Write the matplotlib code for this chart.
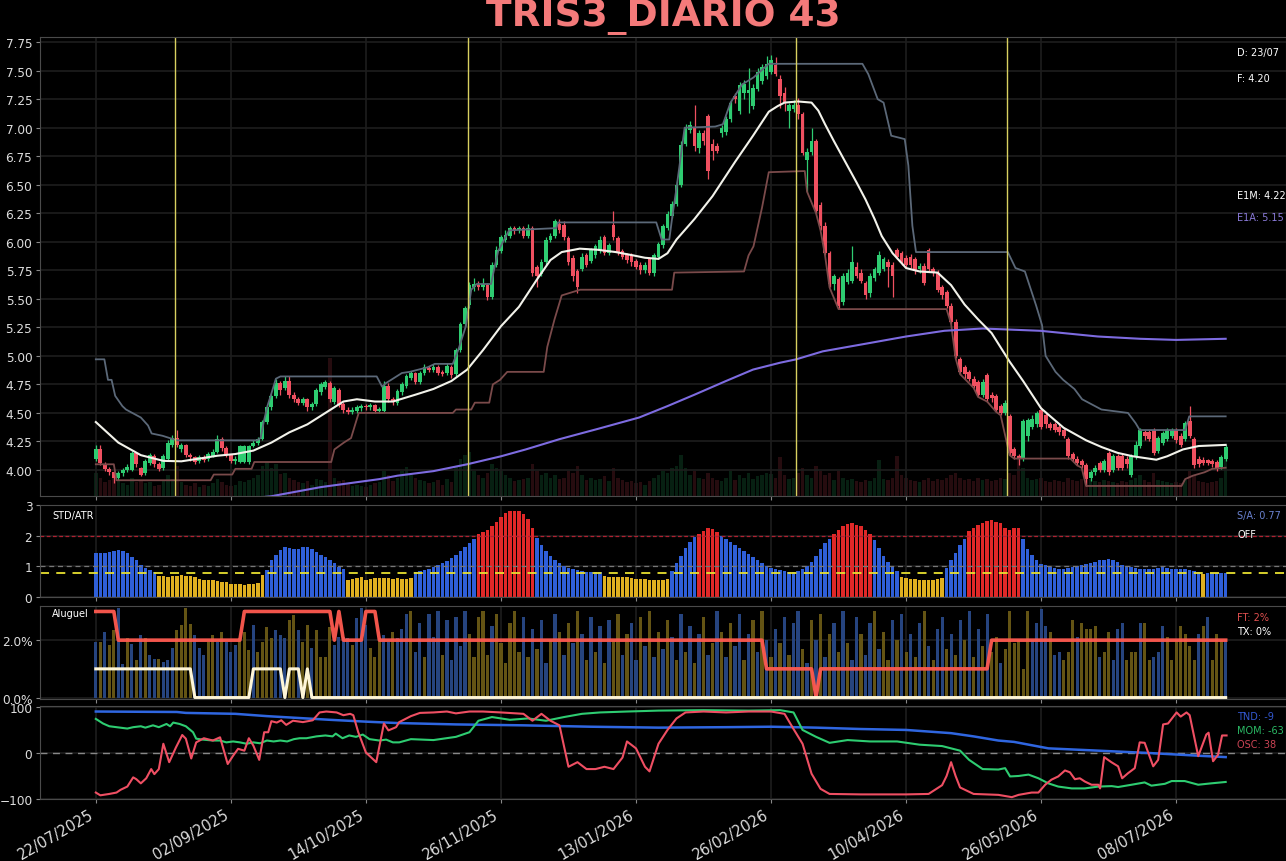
import matplotlib
matplotlib.use("Agg")
import matplotlib.pyplot as plt
import numpy as np

## DADOS ##
# marcas do eixo x (indice do pregao -> data)
tick_idx = [0, 30, 60, 90, 120, 150, 180, 210, 240]
tick_lbl = ["22/07/2025", "02/09/2025", "14/10/2025", "26/11/2025", "13/01/2026",
            "26/02/2026", "10/04/2026", "26/05/2026", "08/07/2026"]

# candles diarios
abertura = [
    4.10, 4.18, 4.05, 4.01, 3.98, 3.93, 3.97, 4.00, 4.00, 4.15,
    4.02, 3.97, 4.06, 4.12, 4.05, 4.02, 4.10, 4.22, 4.28, 4.18,
    4.22, 4.13, 4.11, 4.08, 4.11, 4.10, 4.12, 4.16, 4.27, 4.19,
    4.13, 4.08, 4.07, 4.07, 4.07, 4.21, 4.24, 4.27, 4.42, 4.55,
    4.65, 4.76, 4.72, 4.78, 4.66, 4.62, 4.59, 4.62, 4.55, 4.58,
    4.68, 4.73, 4.76, 4.60, 4.70, 4.58, 4.53, 4.51, 4.52, 4.54,
    4.56, 4.55, 4.57, 4.52, 4.52, 4.74, 4.62, 4.59, 4.68, 4.74,
    4.81, 4.85, 4.77, 4.85, 4.89, 4.88, 4.90, 4.86, 4.85, 4.90,
    4.84, 5.05, 5.28, 5.45, 5.60, 5.62, 5.60, 5.62, 5.52, 5.80,
    5.92, 6.02, 6.05, 6.12, 6.10, 6.12, 6.05, 6.12, 5.78, 5.72,
    5.82, 6.02, 6.05, 6.16, 6.15, 6.03, 5.86, 5.74, 5.76, 5.88,
    5.83, 5.88, 5.92, 6.04, 5.90, 6.15, 6.03, 5.92, 5.88, 5.88,
    5.83, 5.80, 5.75, 5.85, 5.73, 5.87, 5.97, 6.12, 6.23, 6.33,
    6.50, 6.86, 6.98, 7.00, 6.82, 6.95, 7.10, 6.86, 6.84, 6.95,
    6.96, 7.08, 7.28, 7.15, 7.30, 7.30, 7.19, 7.34, 7.41, 7.45,
    7.49, 7.55, 7.43, 7.30, 7.15, 7.16, 7.20, 7.12, 6.72, 6.79,
    6.88, 6.32, 6.14, 5.90, 5.63, 5.67, 5.47, 5.65, 5.66, 5.78,
    5.73, 5.64, 5.55, 5.68, 5.73, 5.76, 5.82, 5.80, 5.93, 5.90,
    5.86, 5.87, 5.85, 5.76, 5.79, 5.93, 5.76, 5.73, 5.60, 5.56,
    5.44, 5.30, 4.97, 4.90, 4.86, 4.80, 4.77, 4.66, 4.83, 4.66,
    4.65, 4.56, 4.50, 4.47, 4.18, 4.12, 4.10, 4.30, 4.38, 4.40,
    4.53, 4.48, 4.40, 4.40, 4.38, 4.35, 4.27, 4.14, 4.10, 4.08,
    4.04, 3.93, 3.98, 4.06, 4.00, 4.15, 4.00, 4.12, 4.12, 4.10,
    3.96, 4.12, 4.21, 4.33, 4.33, 4.35, 4.17, 4.24, 4.27, 4.30,
    4.35, 4.30, 4.27, 4.43, 4.27, 4.10, 4.09, 4.09, 4.08, 4.07,
    4.03, 4.10]
maxima = [
    4.22, 4.22, 4.07, 4.03, 3.99, 3.99, 4.02, 4.05, 4.17, 4.16,
    4.03, 4.10, 4.15, 4.14, 4.07, 4.14, 4.26, 4.31, 4.35, 4.24,
    4.23, 4.15, 4.12, 4.13, 4.13, 4.16, 4.18, 4.31, 4.29, 4.21,
    4.14, 4.12, 4.22, 4.22, 4.22, 4.26, 4.29, 4.44, 4.57, 4.67,
    4.80, 4.78, 4.82, 4.82, 4.68, 4.64, 4.64, 4.63, 4.60, 4.72,
    4.77, 4.79, 4.78, 4.74, 4.72, 4.60, 4.55, 4.55, 4.57, 4.58,
    4.58, 4.59, 4.58, 4.55, 4.78, 4.76, 4.64, 4.71, 4.77, 4.84,
    4.87, 4.86, 4.87, 4.93, 4.91, 4.93, 4.92, 4.88, 4.94, 4.92,
    5.07, 5.30, 5.44, 5.65, 5.68, 5.66, 5.68, 5.64, 5.82, 5.96,
    6.06, 6.10, 6.14, 6.14, 6.14, 6.14, 6.16, 6.14, 5.80, 5.85,
    6.04, 6.08, 6.20, 6.20, 6.18, 6.05, 5.88, 5.76, 5.90, 5.90,
    5.95, 5.98, 6.05, 6.06, 5.99, 6.27, 6.05, 5.94, 5.90, 5.90,
    5.85, 5.82, 5.82, 5.87, 5.90, 6.00, 6.16, 6.27, 6.36, 6.53,
    6.88, 7.03, 7.06, 7.20, 6.98, 6.98, 7.12, 6.90, 6.87, 7.02,
    7.10, 7.24, 7.30, 7.40, 7.42, 7.52, 7.38, 7.52, 7.56, 7.63,
    7.64, 7.62, 7.46, 7.36, 7.22, 7.24, 7.26, 7.14, 6.82, 7.00,
    6.90, 6.35, 6.17, 5.92, 5.72, 5.69, 5.73, 5.76, 5.96, 5.82,
    5.76, 5.66, 5.73, 5.78, 5.92, 5.87, 5.85, 5.82, 5.95, 5.92,
    5.88, 5.89, 5.87, 5.81, 5.81, 5.95, 5.78, 5.75, 5.62, 5.58,
    5.46, 5.32, 4.99, 4.92, 4.88, 4.82, 4.79, 4.80, 4.85, 4.68,
    4.67, 4.58, 4.61, 4.49, 4.20, 4.14, 4.45, 4.46, 4.48, 4.52,
    4.55, 4.50, 4.42, 4.42, 4.40, 4.37, 4.29, 4.16, 4.12, 4.10,
    4.06, 4.00, 4.04, 4.08, 4.10, 4.17, 4.14, 4.14, 4.14, 4.12,
    4.14, 4.25, 4.37, 4.35, 4.35, 4.37, 4.30, 4.34, 4.37, 4.37,
    4.37, 4.32, 4.43, 4.56, 4.29, 4.12, 4.11, 4.10, 4.10, 4.09,
    4.13, 4.22]
minima = [
    4.08, 4.04, 3.99, 3.96, 3.89, 3.91, 3.95, 3.98, 3.99, 4.03,
    3.95, 3.96, 4.04, 4.03, 3.99, 4.00, 4.08, 4.20, 4.20, 4.16,
    4.11, 4.08, 4.05, 4.06, 4.07, 4.08, 4.11, 4.15, 4.17, 4.11,
    4.06, 4.05, 4.06, 4.06, 4.05, 4.20, 4.22, 4.26, 4.40, 4.53,
    4.63, 4.66, 4.70, 4.63, 4.60, 4.57, 4.57, 4.52, 4.53, 4.56,
    4.66, 4.71, 4.60, 4.58, 4.55, 4.50, 4.49, 4.49, 4.50, 4.52,
    4.53, 4.53, 4.50, 4.50, 4.51, 4.60, 4.57, 4.57, 4.66, 4.72,
    4.79, 4.75, 4.75, 4.83, 4.86, 4.86, 4.83, 4.82, 4.83, 4.81,
    4.82, 5.03, 5.26, 5.42, 5.57, 5.58, 5.58, 5.49, 5.50, 5.78,
    5.90, 6.00, 6.03, 6.07, 6.08, 6.03, 6.03, 5.70, 5.60, 5.70,
    5.80, 6.00, 6.03, 6.08, 6.02, 5.80, 5.66, 5.55, 5.74, 5.78,
    5.81, 5.86, 5.90, 5.88, 5.88, 6.02, 5.88, 5.85, 5.81, 5.79,
    5.76, 5.72, 5.73, 5.71, 5.70, 5.85, 5.95, 6.10, 6.21, 6.31,
    6.48, 6.84, 6.95, 6.80, 6.78, 6.85, 6.55, 6.72, 6.78, 6.92,
    6.94, 7.05, 7.22, 7.12, 7.25, 7.13, 7.16, 7.32, 7.38, 7.43,
    7.47, 7.45, 7.17, 7.15, 7.00, 7.14, 7.08, 6.76, 6.44, 6.76,
    6.25, 6.10, 5.88, 5.60, 5.58, 5.41, 5.45, 5.63, 5.64, 5.68,
    5.64, 5.50, 5.52, 5.66, 5.71, 5.74, 5.60, 5.52, 5.85, 5.80,
    5.78, 5.77, 5.72, 5.73, 5.62, 5.74, 5.70, 5.56, 5.50, 5.42,
    5.28, 4.98, 4.84, 4.80, 4.78, 4.72, 4.64, 4.64, 4.60, 4.60,
    4.51, 4.48, 4.48, 4.13, 4.10, 4.04, 4.08, 4.25, 4.36, 4.38,
    4.36, 4.37, 4.35, 4.33, 4.31, 4.28, 4.10, 4.08, 4.04, 4.02,
    3.86, 3.90, 3.96, 3.98, 3.98, 3.96, 3.98, 4.00, 4.00, 4.02,
    3.94, 4.10, 4.19, 4.26, 4.25, 4.13, 4.15, 4.22, 4.25, 4.28,
    4.24, 4.20, 4.25, 4.28, 4.02, 4.03, 4.04, 4.04, 4.03, 3.99,
    4.01, 4.08]
fechamento = [
    4.18, 4.06, 4.01, 3.98, 3.93, 3.97, 4.00, 4.03, 4.15, 4.05,
    3.96, 4.08, 4.13, 4.05, 4.01, 4.12, 4.24, 4.28, 4.22, 4.22,
    4.13, 4.11, 4.07, 4.11, 4.09, 4.14, 4.16, 4.27, 4.19, 4.13,
    4.08, 4.10, 4.21, 4.21, 4.21, 4.24, 4.27, 4.42, 4.55, 4.65,
    4.76, 4.70, 4.78, 4.66, 4.62, 4.59, 4.62, 4.55, 4.58, 4.70,
    4.75, 4.77, 4.62, 4.72, 4.57, 4.53, 4.51, 4.53, 4.55, 4.56,
    4.55, 4.57, 4.52, 4.53, 4.74, 4.62, 4.60, 4.69, 4.75, 4.82,
    4.85, 4.77, 4.85, 4.90, 4.88, 4.90, 4.85, 4.84, 4.91, 4.83,
    5.05, 5.28, 5.42, 5.62, 5.63, 5.60, 5.63, 5.52, 5.80, 5.93,
    6.04, 6.06, 6.12, 6.10, 6.12, 6.05, 6.12, 5.73, 5.70, 5.82,
    6.02, 6.05, 6.18, 6.10, 6.04, 5.82, 5.70, 5.60, 5.87, 5.80,
    5.93, 5.96, 6.02, 5.90, 5.97, 6.04, 5.90, 5.87, 5.84, 5.82,
    5.78, 5.75, 5.80, 5.73, 5.88, 5.98, 6.14, 6.24, 6.33, 6.50,
    6.85, 7.00, 7.02, 6.84, 6.95, 6.88, 6.62, 6.80, 6.80, 7.00,
    7.08, 7.22, 7.25, 7.37, 7.38, 7.33, 7.35, 7.49, 7.53, 7.56,
    7.59, 7.47, 7.28, 7.22, 7.20, 7.20, 7.12, 6.78, 6.79, 6.88,
    6.27, 6.14, 5.90, 5.63, 5.70, 5.44, 5.70, 5.73, 5.82, 5.70,
    5.66, 5.53, 5.70, 5.76, 5.88, 5.85, 5.78, 5.70, 5.87, 5.82,
    5.80, 5.80, 5.74, 5.79, 5.64, 5.76, 5.73, 5.58, 5.53, 5.44,
    5.30, 5.00, 4.86, 4.84, 4.80, 4.74, 4.66, 4.77, 4.62, 4.63,
    4.53, 4.50, 4.59, 4.15, 4.12, 4.10, 4.43, 4.44, 4.45, 4.50,
    4.38, 4.40, 4.37, 4.35, 4.33, 4.30, 4.12, 4.10, 4.06, 4.04,
    3.92, 3.98, 4.02, 4.00, 4.08, 3.98, 4.12, 4.02, 4.02, 4.05,
    4.12, 4.22, 4.35, 4.30, 4.27, 4.15, 4.28, 4.32, 4.35, 4.35,
    4.26, 4.22, 4.41, 4.30, 4.04, 4.05, 4.06, 4.06, 4.05, 4.01,
    4.11, 4.20]
volume = [
    2.0, 1.6, 1.2, 1.4, 1.8, 1.3, 1.1, 1.0, 1.6, 1.2,
    1.3, 1.1, 1.2, 0.9, 1.0, 1.4, 1.8, 1.5, 2.6, 1.2,
    1.0, 0.9, 1.1, 0.8, 1.0, 0.9, 1.1, 1.5, 1.2, 1.0,
    0.9, 1.0, 1.3, 1.2, 1.4, 1.6, 1.8, 2.6, 3.0, 2.4,
    2.8, 1.9, 2.0, 1.6, 1.4, 1.2, 1.1, 1.3, 1.0, 1.5,
    1.4, 1.2, 12.0, 1.6, 1.3, 1.4, 1.1, 0.9, 1.0, 0.9,
    0.8, 1.0, 1.1, 1.2, 2.2, 1.8, 1.3, 1.6, 2.2, 2.5,
    1.8, 1.6, 1.4, 1.3, 1.1, 1.2, 1.4, 1.0, 1.5, 1.2,
    2.5, 3.2, 3.6, 3.8, 2.2, 1.8, 1.6, 2.0, 2.8, 2.4,
    2.2, 1.8, 1.6, 1.3, 1.4, 1.5, 1.6, 2.8, 2.2, 1.8,
    2.0, 1.6, 1.8, 1.5, 1.6, 2.2, 2.0, 2.6, 1.8, 1.4,
    1.6, 1.4, 1.5, 1.7, 1.3, 2.4, 1.6, 1.4, 1.2, 1.3,
    1.1, 1.2, 1.0, 1.3, 1.6, 1.8, 2.2, 2.0, 2.4, 2.6,
    3.6, 2.4, 1.8, 2.2, 1.6, 1.5, 2.0, 1.6, 1.4, 1.3,
    1.6, 2.2, 1.4, 1.8, 1.6, 2.0, 1.5, 1.7, 1.8, 2.0,
    1.9, 1.6, 3.4, 1.8, 1.5, 1.6, 2.0, 2.4, 1.8, 1.6,
    2.6, 2.2, 1.8, 2.0, 1.4, 2.2, 1.6, 1.4, 1.5, 1.3,
    1.2, 1.4, 1.3, 1.6, 3.1, 1.5, 1.4, 1.6, 3.5, 1.8,
    1.6, 1.4, 1.3, 1.2, 1.4, 1.6, 1.3, 1.5, 1.4, 1.6,
    1.8, 2.0, 1.6, 1.4, 1.5, 1.3, 1.6, 1.4, 1.5, 1.3,
    1.4, 1.6, 1.5, 2.0, 1.8, 3.6, 2.4, 1.6, 1.4, 1.5,
    1.6, 1.3, 1.2, 1.4, 1.3, 1.2, 1.6, 1.4, 1.3, 1.5,
    1.8, 1.5, 1.3, 1.2, 1.4, 1.3, 1.2, 1.1, 1.3, 1.2,
    1.4, 1.6, 1.8, 1.4, 1.2, 2.0, 1.4, 1.3, 1.2, 1.1,
    1.2, 1.1, 1.4, 2.2, 1.8, 1.3, 1.2, 1.1, 1.2, 1.3,
    1.6, 3.4]

# medias e canais (pontos lidos)
e1m_x = [0, 5, 10, 15, 19, 23, 27, 31, 35, 39, 43, 47, 51, 55, 58, 62, 66, 71, 75, 79,
         82.5, 86, 90, 94, 98, 101, 103.5, 107.5, 111.5, 115.5, 119.5, 122, 125, 127, 129,
         133, 137, 142, 146, 149.5, 151.5, 153, 156, 159, 160.5, 162, 164, 166.5, 169, 171,
         173, 174.6, 177, 180, 183, 187, 190, 193, 196, 199, 203, 206, 210, 215, 220, 223.5,
         227, 230.4, 235.6, 238, 241.5, 245, 251]
e1m_y = [4.42, 4.24, 4.13, 4.08, 4.076, 4.10, 4.125, 4.14, 4.17, 4.24, 4.33, 4.40, 4.50, 4.60,
         4.62, 4.60, 4.60, 4.66, 4.71, 4.78, 4.88, 5.05, 5.26, 5.43, 5.67, 5.84, 5.91, 5.94,
         5.93, 5.91, 5.88, 5.86, 5.85, 5.90, 6.02, 6.20, 6.40, 6.70, 6.93, 7.14, 7.19, 7.22,
         7.23, 7.22, 7.15, 7.03, 6.88, 6.70, 6.52, 6.37, 6.20, 6.05, 5.90, 5.77, 5.74, 5.73,
         5.62, 5.45, 5.32, 5.20, 4.95, 4.78, 4.54, 4.37, 4.26, 4.20, 4.15, 4.12, 4.09, 4.12,
         4.18, 4.21, 4.22]
e1a_x = [34, 39, 50, 63, 67, 75, 82.5, 90, 95.5, 103, 111.5, 120.7, 127, 133, 140, 146, 152,
         155.6, 161.5, 171.5, 180, 188.5, 197, 209.8, 222.6, 232, 240, 251]
e1a_y = [3.75, 3.77, 3.85, 3.92, 3.95, 3.99, 4.05, 4.12, 4.18, 4.27, 4.36, 4.46, 4.56, 4.66,
         4.78, 4.88, 4.94, 4.97, 5.04, 5.11, 5.17, 5.22, 5.24, 5.22, 5.17, 5.15, 5.14, 5.15]
sup_x = [0, 1.9, 2.7, 3.5, 4.3, 5.9, 6.7, 10, 11.6, 12.4, 14.8, 15.6, 18, 35.8, 36.6, 37.4,
         38.2, 39, 40, 41, 62.4, 63.6, 64.4, 68, 69.7, 73.7, 75.3, 79.3, 80.5, 82.2, 83.4,
         84.6, 87.8, 88.6, 89.4, 91.8, 102.3, 102.7, 124.5, 125.7, 127.4, 128, 129.1, 130.8,
         137.6, 139.3, 141, 143.6, 146.1, 149.5, 170.3, 171.6, 173.7, 175, 176.7, 179.7,
         180.5, 181.4, 182.2, 202.6, 204.3, 206.4, 208.9, 210.2, 211, 213.2, 214.9, 217.4,
         219.1, 223.4, 229.3, 231, 231.9, 242, 242.9, 251]
sup_y = [4.97, 4.97, 4.79, 4.79, 4.65, 4.56, 4.53, 4.46, 4.39, 4.32, 4.30, 4.29, 4.26, 4.26,
         4.28, 4.44, 4.57, 4.67, 4.80, 4.82, 4.82, 4.73, 4.76, 4.85, 4.86, 4.90, 4.93, 4.93,
         5.05, 5.26, 5.58, 5.63, 5.63, 5.78, 5.92, 6.10, 6.12, 6.17, 6.17, 6.02, 6.02, 6.20,
         6.50, 7.00, 7.01, 7.03, 7.22, 7.38, 7.44, 7.56, 7.56, 7.47, 7.25, 7.22, 6.93, 6.90,
         6.67, 6.14, 5.91, 5.91, 5.77, 5.74, 5.44, 5.27, 5.00, 4.86, 4.79, 4.71, 4.62, 4.53,
         4.50, 4.41, 4.35, 4.35, 4.47, 4.47]
inf_x = [0, 4, 4.6, 25.5, 26.2, 30.3, 31, 34.6, 35.2, 52.3, 53, 55.1, 56.7, 58.4, 79.3, 80,
         83.4, 84.2, 87.4, 88.2, 89.8, 91.4, 99.5, 100.3, 101.9, 103.5, 107.6, 128, 128.5,
         144, 145, 146.1, 148, 149.5, 157.5, 158, 160, 161, 162, 163, 165, 189, 190, 191,
         192, 193, 195, 196, 198, 200, 201, 203, 204, 216.5, 217, 218, 219, 220, 241.2, 242,
         243.7, 246.3, 248, 251]
inf_y = [4.05, 4.05, 3.91, 3.91, 3.96, 3.96, 4.01, 4.01, 4.07, 4.07, 4.18, 4.24, 4.28, 4.50,
         4.50, 4.53, 4.53, 4.59, 4.59, 4.75, 4.79, 4.86, 4.86, 5.08, 5.32, 5.53, 5.58, 5.58,
         5.73, 5.74, 5.88, 5.96, 6.30, 6.61, 6.62, 6.44, 6.25, 6.10, 5.88, 5.60, 5.41, 5.41,
         5.28, 4.98, 4.84, 4.80, 4.72, 4.64, 4.60, 4.51, 4.48, 4.13, 4.10, 4.10, 4.08, 4.04,
         4.02, 3.86, 3.86, 3.92, 3.95, 3.98, 4.01, 4.02]
marcas = [17.7, 82.7, 155.5, 202.5]

# STD/ATR
std_atr = [
    1.45, 1.45, 1.45, 1.48, 1.50, 1.52, 1.50, 1.42, 1.31, 1.20, 1.04, 0.93, 0.87, 0.80,
    0.68, 0.67, 0.66, 0.68, 0.70, 0.71, 0.70, 0.68, 0.64, 0.60, 0.56, 0.55, 0.54, 0.52,
    0.50, 0.50, 0.42, 0.44, 0.43, 0.40, 0.41, 0.43, 0.47, 0.72,
    0.87, 1.20, 1.36, 1.53, 1.64, 1.60, 1.58, 1.58, 1.64, 1.62, 1.56, 1.47, 1.38, 1.31,
    1.20, 1.12, 0.98, 0.90,
    0.57, 0.60, 0.62, 0.64, 0.55, 0.60, 0.62, 0.63, 0.63, 0.62, 0.60, 0.62, 0.60, 0.58, 0.62,
    0.80, 0.84, 0.88, 0.92, 0.98, 1.04, 1.10, 1.18, 1.28, 1.38, 1.50, 1.62, 1.75, 1.90,
    2.05, 2.12, 2.20, 2.30, 2.45, 2.62, 2.75, 2.80, 2.82, 2.80, 2.72, 2.55, 2.25,
    1.92, 1.70, 1.50, 1.35, 1.20, 1.10, 1.00, 0.95, 0.90, 0.88, 0.85, 0.83, 0.82, 0.80, 0.80,
    0.68, 0.66, 0.65, 0.66, 0.64, 0.65, 0.62, 0.60, 0.58, 0.58, 0.57, 0.56, 0.55, 0.55, 0.60,
    0.85, 1.10, 1.35, 1.60, 1.80, 1.95,
    2.05, 2.15, 2.25, 2.22, 2.12,
    1.98, 1.90, 1.80, 1.70, 1.60, 1.50, 1.40, 1.30, 1.20, 1.10, 1.00, 0.95, 0.90, 0.88,
    0.85, 0.83, 0.82, 0.85, 0.90, 1.00, 1.15, 1.35, 1.55, 1.75, 1.90,
    2.05, 2.20, 2.30, 2.38, 2.40, 2.35, 2.30, 2.20, 2.05,
    1.85, 1.60, 1.35, 1.15, 1.00, 0.85,
    0.65, 0.62, 0.60, 0.58, 0.56, 0.55, 0.55, 0.56, 0.58, 0.62,
    0.95, 1.20, 1.45, 1.70, 1.90,
    2.15, 2.25, 2.35, 2.42, 2.48, 2.50, 2.46, 2.42, 2.24, 2.20, 2.24, 2.25,
    1.90, 1.58, 1.36, 1.20, 1.09, 1.04, 0.98, 0.95, 0.92, 0.92, 0.95, 0.98, 1.00, 1.04,
    1.08, 1.12, 1.15, 1.20, 1.22, 1.25, 1.20, 1.15, 1.05, 1.00, 0.98, 0.95, 0.92, 0.90,
    0.90, 0.92, 0.95, 0.98, 0.95, 0.92, 0.90, 0.92, 0.90, 0.87, 0.86, 0.80, 0.74, 0.78,
    0.78, 0.78, 0.78, 0.78]
limite_sa = 0.77

# Aluguel (%)
aluguel = [
    1.94, 1.94, 2.29, 1.82, 2.35, 3.11, 1.18, 2.06, 1.88, 1.30, 2.18, 2.06, 1.47, 1.36,
    1.36, 1.24, 1.30, 1.71, 2.35, 2.53, 3.11, 2.58, 2.18, 1.71, 1.47, 1.94, 2.18, 1.94,
    2.29, 1.94, 1.59, 1.82, 2.06, 2.29, 1.65, 2.53, 1.59, 1.94, 2.47, 2.06, 2.35, 2.18,
    2.06, 2.70, 2.88, 2.35, 1.94, 2.53, 1.71, 2.35, 1.42, 1.42, 2.47, 1.82, 2.12, 2.12,
    2.06, 1.82, 2.76, 3.11, 2.53, 1.71, 1.42, 2.06, 2.18, 1.94, 2.29, 2.06,
    2.4, 2.9, 3.0, 1.6, 2.6, 1.4, 2.9, 2.1, 3.0, 1.5, 2.7, 1.3,
    2.8, 1.8, 3.0, 2.2, 1.4, 2.8, 3.0, 1.5, 2.5, 2.9, 1.9, 1.2,
    2.6, 3.0, 1.6, 2.8, 1.4, 2.4, 1.7, 2.7, 1.2, 2.0, 2.9, 2.3,
    1.5, 2.6, 1.9, 3.0, 2.2, 1.3, 2.8, 1.6, 2.5, 1.2, 2.7, 2.0,
    2.9, 1.5, 2.2, 2.6, 1.3, 2.8, 1.8, 3.0, 1.4, 2.3, 1.7, 2.7,
    2.1, 1.3, 2.9, 1.6, 2.5, 1.2, 2.2, 2.8, 1.5, 1.9, 3.0, 2.3,
    1.4, 2.6, 1.8, 2.9, 1.3, 2.2, 2.7, 1.6, 3.0, 2.0, 1.4, 2.4,
    1.9, 2.8, 1.5, 2.6, 3.0, 1.7, 1.2, 2.7, 2.0, 2.9, 1.4, 2.2,
    2.6, 1.6, 3.0, 1.9, 1.3, 2.8, 2.2, 1.5, 2.6, 3.0, 1.7, 2.3,
    1.3, 2.7, 2.0, 2.9, 1.6, 2.2, 1.4, 2.6, 3.0, 1.8, 1.3, 2.4,
    2.8, 1.7, 2.2, 1.5, 2.7, 2.0, 3.0, 1.4, 2.4, 1.8, 2.9, 1.6,
    2.1, 1.2, 1.7, 3.0, 1.9, 2.0, 1.0, 3.0, 2.0, 2.6, 3.1, 2.5, 2.3, 1.5, 1.6, 1.3,
    1.6, 2.7, 2.1, 2.6, 2.4, 2.4, 2.5, 1.4, 1.6, 2.3, 1.3, 2.4, 2.6, 1.3, 1.6, 1.6,
    2.6, 2.6, 1.3, 1.4, 1.6, 2.5, 2.1, 1.3, 2.0, 2.5, 2.2, 1.8, 1.3, 2.2, 2.5, 2.8,
    1.3, 2.2, 2.0, 2.0]
# a = azul, o = oliva
aluguel_tipo = ("aoaooaaoao" "aoaaoaaaoo" "ooaaaooaoa" "aaoooaoooo" "aaaooaooao"
                "oooaaaaoaa" "aoooaaoa"
                "aaoaaoaaaoaa" "aaaoooooaooo" "oooaoaoaaoao" "aoaoaoaoaoao"
                "oaoaaoaoaoao" "aoaoaoaoaoao" "aoaaoaoaoaoa" "oaoaaoaoaoao"
                "aoaoaaoaaoao" "oaoaoaoaoaoa" "aoaoaoaoaoao"
                "oaooooooaa" "aaoaaoooao" "oooaooaaao" "ooaooaaaoo" "oooooaoaoo" "oa")
ft = [3] * 5 + [2] * 28 + [3] * 20 + [2] + [3] + [2] * 5 + [3] * 3 + [2] * 86 + [1] * 11 + [0] + [1] * 38 + [2] * 53
tx = [1] * 22 + [0] * 13 + [1] * 7 + [0] + [1] * 3 + [0] + [1] + [0] * 204

# osciladores (pontos lidos)
tnd_x = [0, 18, 20, 31, 38, 52, 60, 67, 80, 95, 110, 125, 140, 150, 160, 170, 180, 190, 195,
         200.5, 204, 211.6, 222.7, 233.8, 237.5, 245, 251]
tnd_y = [90, 89, 87, 85, 80, 72, 68, 65, 62, 60, 57, 55, 56, 57, 55, 52, 50, 43, 36,
         27, 24, 10, 5, 0, -2, -6, -9]
mom_x = [0, 1.6, 3, 4.6, 7, 8.3, 10, 11, 12.7, 14, 15.7, 16.5, 17.2, 18.6, 20, 21.6, 22.3,
         23.8, 26, 27.6, 29, 30.5, 32, 33.5, 35, 36.5, 38, 39.5, 41, 42.5, 44, 45.3, 46.8,
         49, 51, 52.6, 53.3, 54.8, 56.3, 57.8, 59.3, 60.8, 63, 64.5, 66, 67.4, 70, 75, 80,
         83, 85, 88, 92, 96, 100, 104, 108, 112, 118, 125, 135, 145, 152, 155, 157, 160,
         163, 167, 172, 178, 183, 188, 192, 194, 197, 200.5, 202, 203.1, 205, 207.2, 209.4,
         211.6, 213.8, 216.8, 219.7, 222.7, 225.7, 227.1, 230.1, 233, 234.5, 237.5, 239,
         241.9, 244.9, 247.8, 251]
mom_y = [74, 64, 58, 56, 53, 56, 58, 55, 60, 56, 63, 58, 66, 63, 58, 45, 31, 29, 27, 27,
         23, 25, 23, 20, 23, 21, 27, 25, 27, 25, 30, 32, 32, 36, 38, 36, 42, 32, 38, 35,
         40, 30, 27, 29, 23, 23, 30, 28, 35, 45, 70, 78, 72, 75, 70, 78, 85, 88, 90, 92,
         93, 92, 93, 88, 50, 35, 22, 28, 25, 25, 18, 15, 5, -15, -35, -36, -33, -51, -50,
         -47, -55, -66, -73, -77, -77, -73, -72, -74, -69, -64, -71, -67, -61, -61, -69,
         -66, -63]
osc_x = [0, 1, 3, 4.6, 5.5, 7, 8.3, 9, 10, 11.2, 12.3, 13, 14, 15, 16.3, 17.8, 19.2, 20,
         21.2, 22.3, 24, 26, 27.6, 29.3, 30.5, 31.6, 33, 34, 35, 36.3, 37.4, 38.3, 39, 40.2,
         41.2, 42.3, 43.8, 46, 48.2, 49.7, 51.2, 53.5, 55, 56.5, 57.2, 58.3, 60, 62.3, 64,
         65, 66.7, 67.4, 70, 72, 75, 78, 80, 83, 86, 90, 95, 97, 99, 101, 103, 105, 107,
         109, 111, 113, 115, 117, 118, 120, 122, 123, 125, 127, 129, 131, 135, 140, 145,
         150, 153, 155, 157, 159, 161, 163, 170, 180, 185, 188, 189, 190, 191, 192, 195,
         200.5, 203.5, 205, 207.9, 209.4, 210.9, 212.3, 213.8, 215.3, 216.4, 217.5, 218.6,
         219.7, 221.2, 222.7, 223.1, 224, 225.6, 227.1, 228, 229.3, 230.8, 231.9, 233,
         234.9, 236, 237.1, 238.2, 240.1, 241, 242.3, 243, 244.9, 246.7, 247.2, 248.2,
         249.3, 250.2, 251.2]
osc_y = [-86, -92, -89, -86, -80, -73, -53, -57, -66, -55, -35, -46, -35, 20, -20, 12, 39,
         31, -12, 23, 32, 27, 34, -24, -6, 9, 5, 32, 16, -15, 45, 45, 69, 66, 71, 61, 70,
         67, 71, 88, 90, 88, 82, 85, 82, 45, 1, -20, 64, 49, 56, 67, 80, 87, 88, 90, 86,
         90, 90, 88, 85, 70, 85, 70, 60, -30, -20, -35, -35, -30, -35, -10, 25, 10, -30,
         -40, 20, 50, 75, 88, 90, 88, 90, 90, 85, 52, 20, -45, -78, -89, -90, -90, -89, -70,
         -50, -20, -50, -75, -89, -91, -96, -91, -86, -86, -69, -58, -51, -38, -42, -57,
         -55, -62, -69, -69, -77, -9, -20, -29, -55, -44, -33, 23, 22, -29, -15, 62, 64,
         88, 79, 88, 82, -7, 40, 44, -18, -4, 38, 38]

## CORES ##
VERDE = "#2ecc71"
VERMELHO = "#ef5060"
FUNDO = "black"
TXT = "#dddddd"
GRADE = "#1e1e1e"

x = np.arange(len(fechamento))
o = np.array(abertura)
c = np.array(fechamento)
sobe = c >= o
cores = np.where(sobe, VERDE, VERMELHO)

fig = plt.figure(figsize=(12.86, 8.62), dpi=100, facecolor=FUNDO)
L, W = 40 / 1286, 1 - 40 / 1286


def painel(topo, base):
    a = fig.add_axes([L, 1 - base / 862, W, (base - topo) / 862])
    a.set_facecolor(FUNDO)
    for s in a.spines.values():
        s.set_color("#4a4a4a")
        s.set_linewidth(0.8)
    a.tick_params(colors="#888888", labelcolor=TXT, labelsize=8.7, length=3, pad=2.5)
    a.set_xlim(-12.4, 264.4)
    a.set_xticks(tick_idx)
    a.grid(True, color=GRADE, lw=1.2)
    a.set_axisbelow(True)
    return a


ax = painel(38, 497)
ax1 = painel(506, 598)
ax2 = painel(607, 700)
ax3 = painel(707, 800)

# volume atras dos candles
axv = ax.twinx()
axv.bar(x, volume, width=0.8, color=cores, alpha=0.16)
axv.set_ylim(0, 40)
axv.axis("off")
ax.set_zorder(axv.get_zorder() + 1)
ax.patch.set_visible(False)

# candles
ax.vlines(x, minima, maxima, colors=cores, lw=0.9)
corpo = np.maximum(np.abs(c - o), 0.012)
ax.bar(x, corpo, bottom=np.minimum(o, c), width=0.85, color=cores)

ax.plot(sup_x, sup_y, color="#5b6878", lw=1.3)
ax.plot(inf_x, inf_y, color="#7a4a4a", lw=1.3)
ax.plot(e1a_x, e1a_y, color="#7d6be0", lw=1.5)
ax.plot(e1m_x, e1m_y, color="#f2f2ea", lw=1.5)
for m in marcas:
    ax.axvline(m, color="#d8d060", lw=1.0)

ax.set_ylim(3.772, 7.795)
ax.set_yticks(np.arange(4.0, 7.76, 0.25))
ax.yaxis.set_major_formatter(plt.FormatStrFormatter("%.2f"))
ax.tick_params(labelbottom=False)

tr = ax.transAxes
fs = 7
ax.text(0.9607, 0.967, "D: 23/07", transform=tr, color="white", fontsize=fs, va="center")
ax.text(0.9607, 0.911, f"F: {fechamento[-1]:.2f}", transform=tr, color="white", fontsize=fs, va="center")
ax.text(0.9607, 0.656, f"E1M: {e1m_y[-1]:.2f}", transform=tr, color="white", fontsize=fs, va="center")
ax.text(0.9607, 0.608, f"E1A: {e1a_y[-1]:.2f}", transform=tr, color="#8a7ad8", fontsize=fs, va="center")

# STD/ATR
sv = np.array(std_atr)
cs = np.where(sv >= 2.0, "#e02828", np.where(sv < limite_sa, "#e0b020", "#2f5fd8"))
ax1.bar(x, sv, width=0.8, color=cs)
ax1.axhline(2, color="#b02030", lw=0.9, ls=(0, (3, 2)))
ax1.axhline(1, color="#777777", lw=0.9, ls=(0, (4, 3)))
ax1.axhline(limite_sa, color="#e8e030", lw=1.3, ls=(0, (5, 4)))
ax1.set_ylim(0, 3)
ax1.set_yticks([0, 1, 2, 3])
ax1.tick_params(labelbottom=False)
ax1.text(0.0096, 0.89, "STD/ATR", transform=ax1.transAxes, color="white", fontsize=fs, va="center")
ax1.text(0.9607, 0.89, f"S/A: {limite_sa:.2f}", transform=ax1.transAxes, color="#6a82d0", fontsize=fs, va="center")
ax1.text(0.9607, 0.685, "OFF", transform=ax1.transAxes, color="white", fontsize=fs, va="center")

# Aluguel
ca = ["#26447f" if t == "a" else "#645414" for t in aluguel_tipo]
ax2.bar(x, aluguel, width=0.7, color=ca)
ax2.plot(x, ft, color="#ff5a50", lw=2.6, alpha=0.95)
ax2.plot(x, tx, color="#fff6d8", lw=2.2)
ax2.set_ylim(-0.05, 3.19)
ax2.set_yticks([0, 2])
ax2.yaxis.set_major_formatter(plt.FuncFormatter(lambda v, p: f"{v:.1f}%"))
ax2.tick_params(labelbottom=False)
ax2.text(0.0096, 0.93, "Aluguel", transform=ax2.transAxes, color="white", fontsize=fs, va="center")
ax2.text(0.9607, 0.886, f"FT: {ft[-1]}%", transform=ax2.transAxes, color="#e05050", fontsize=fs, va="center")
ax2.text(0.9607, 0.733, f"TX: {tx[-1]}%", transform=ax2.transAxes, color="white", fontsize=fs, va="center")

# osciladores
ax3.axhline(0, color="#888888", lw=1.0, ls=(0, (5, 4)))
ax3.plot(tnd_x, tnd_y, color="#2f66e0", lw=1.8)
ax3.plot(mom_x, mom_y, color="#2ecc71", lw=1.5)
ax3.plot(osc_x, osc_y, color="#ef4f63", lw=1.5)
ax3.set_ylim(-100, 102)
ax3.set_yticks([-100, 0, 100])
ax3.set_xticklabels(tick_lbl, rotation=30, ha="right", fontsize=10.5)
ax3.text(0.9607, 0.89, f"TND: {tnd_y[-1]}", transform=ax3.transAxes, color="#3358d0", fontsize=fs, va="center")
ax3.text(0.9607, 0.74, f"MOM: {mom_y[-1]}", transform=ax3.transAxes, color="#2bbb66", fontsize=fs, va="center")
ax3.text(0.9607, 0.59, f"OSC: {osc_y[-1]}", transform=ax3.transAxes, color="#cc4455", fontsize=fs, va="center")

fig.text(0.5155, 0.98, "TRIS3_DIARIO 43", ha="center", va="center", fontsize=27,
         fontweight="bold", color="#f47a7a")

fig.savefig("out.png", dpi=100, facecolor=FUNDO)
